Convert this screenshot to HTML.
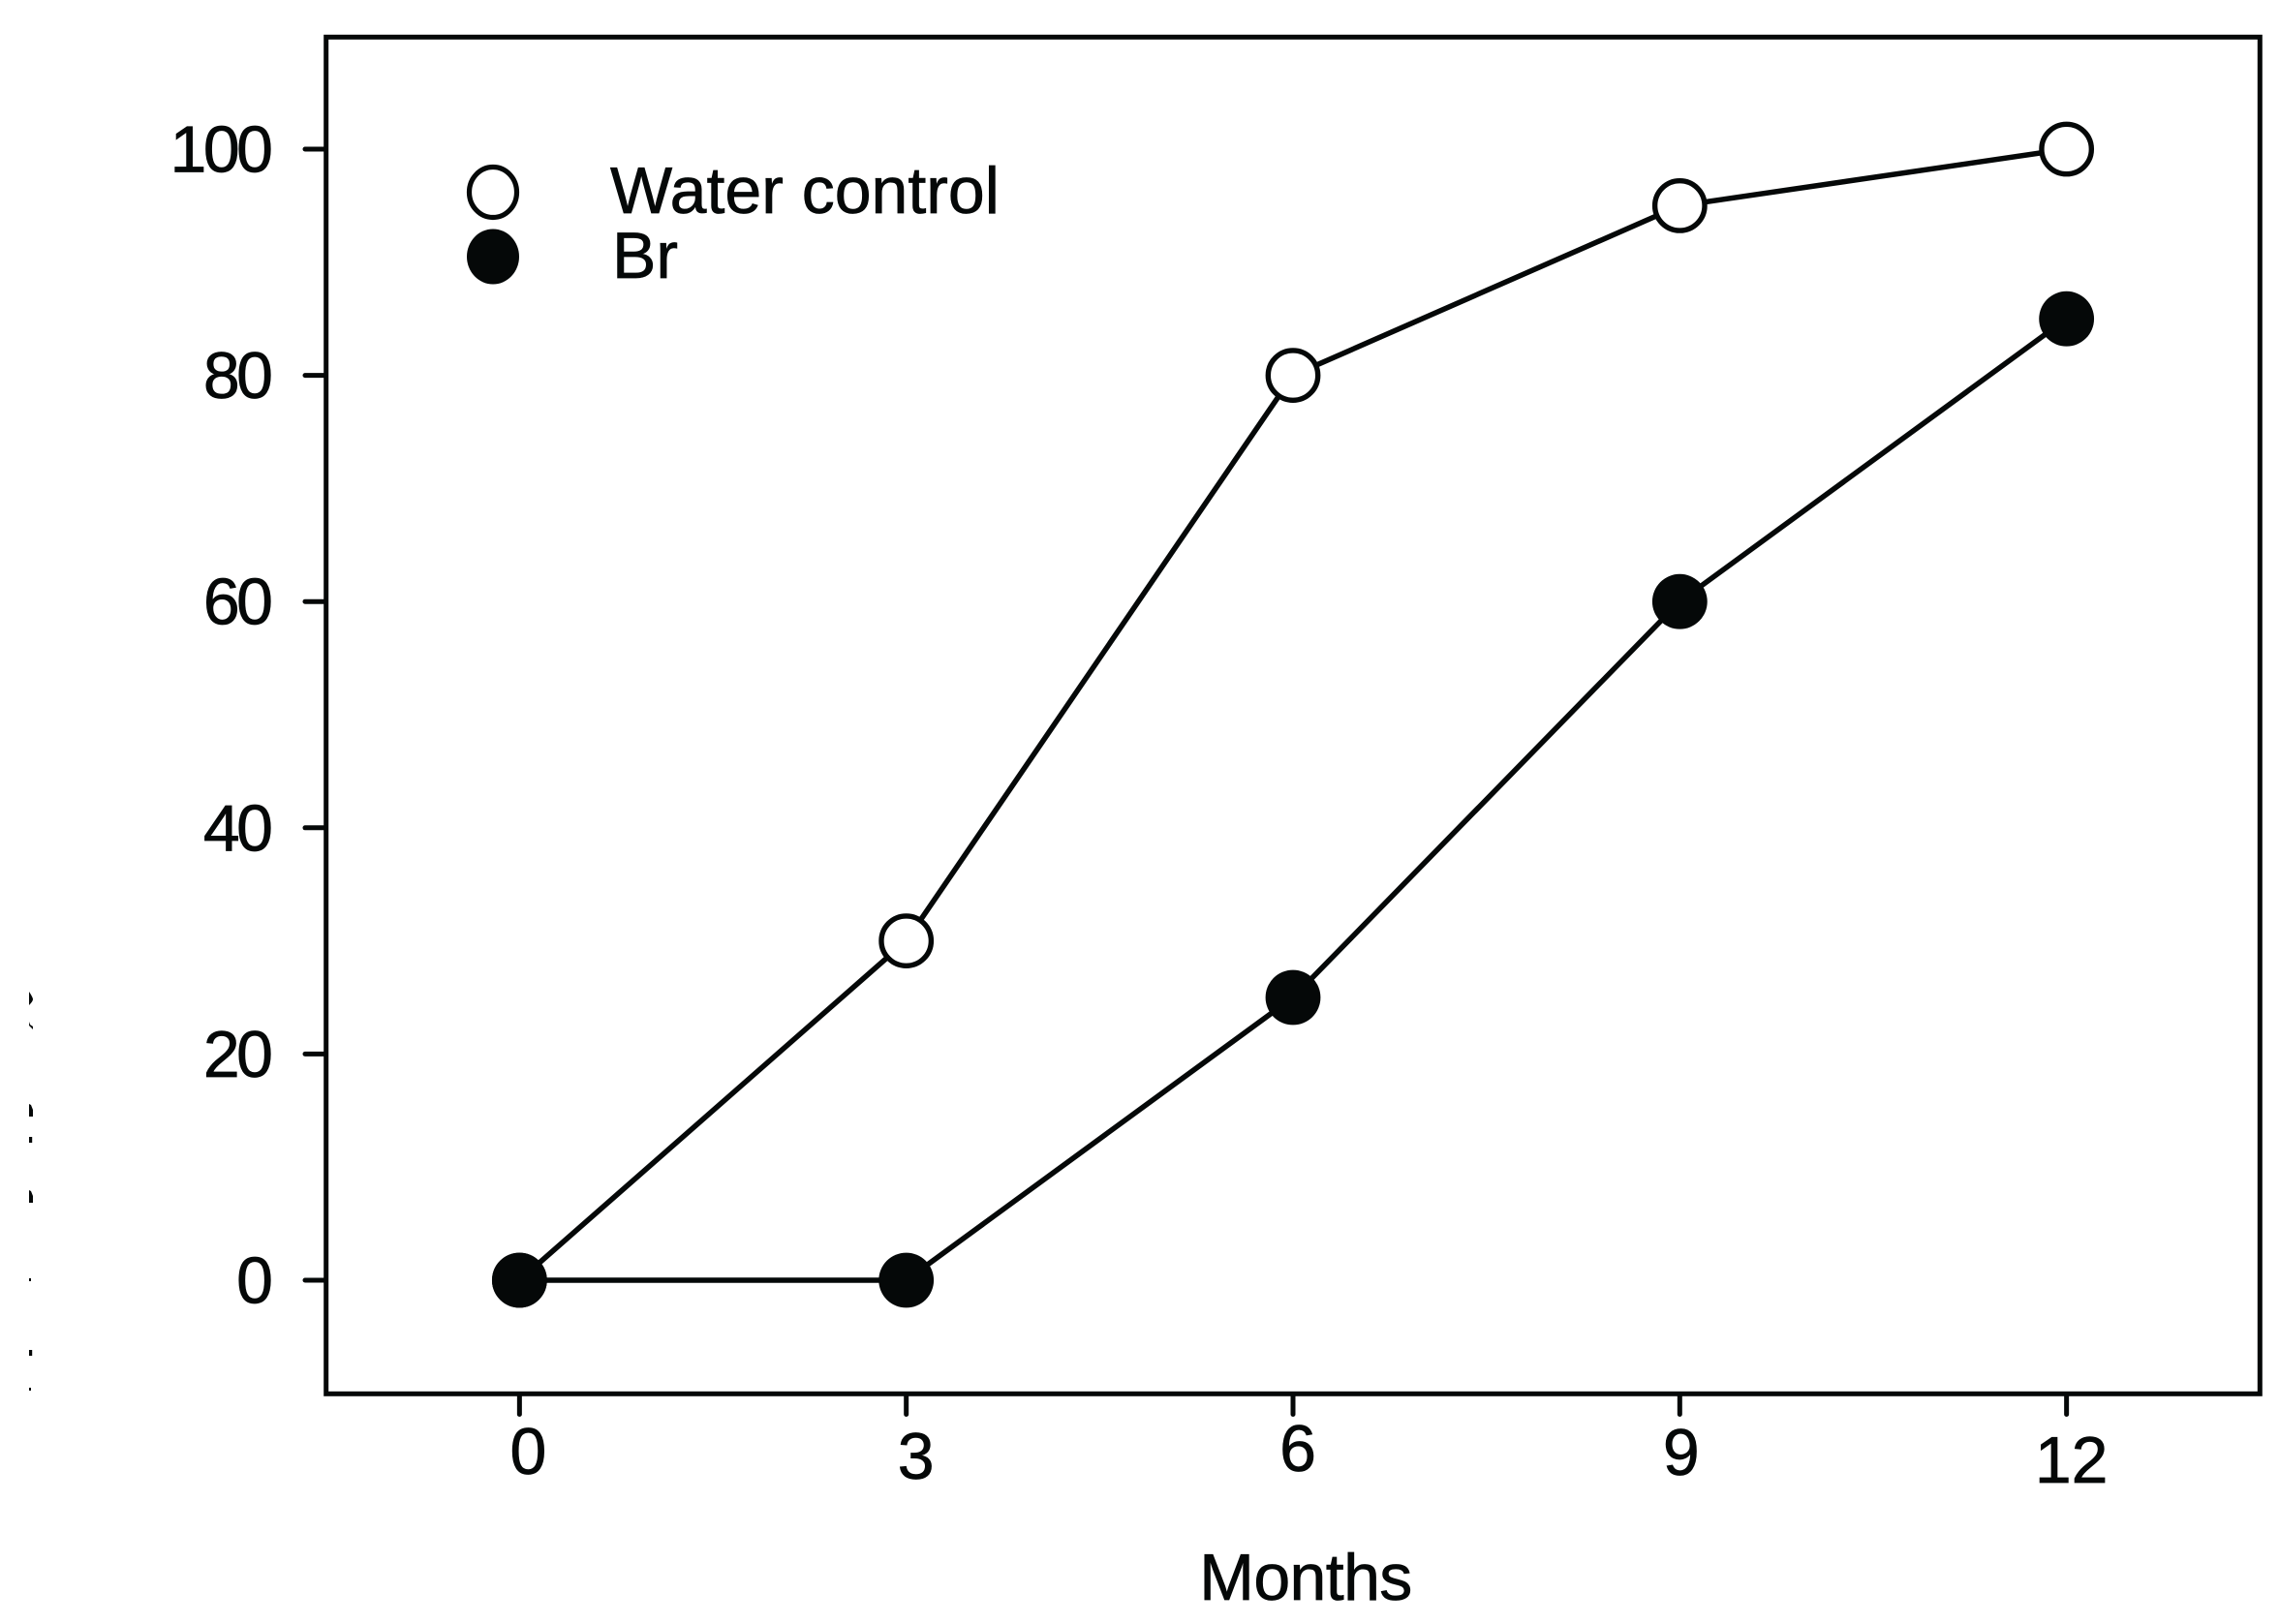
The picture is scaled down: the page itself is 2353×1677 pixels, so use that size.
<!DOCTYPE html>
<html lang="en">
<head>
<meta charset="utf-8">
<title>Water control and Br over months</title>
<style>
html,body{margin:0;padding:0;background:#fff;}
body{width:2353px;height:1677px;overflow:hidden;}
svg{display:block;}
text{font-family:"Liberation Sans",sans-serif;font-size:68px;fill:#050808;stroke:#050808;stroke-width:0.7px;}
</style>
</head>
<body>
<svg id="chart" xmlns="http://www.w3.org/2000/svg" width="2353" height="1677" viewBox="0 0 2353 1677">
  <rect x="0" y="0" width="2353" height="1677" fill="#fff"/>
  <rect x="336.7" y="38.3" width="1996.6" height="1401" fill="#fff" stroke="#050808" stroke-width="5"/>
  <g id="x-axis"></g>
  <g id="y-axis"></g>
  <g id="series"></g>
  <g>
    <g>
      <ellipse cx="509" cy="198.5" rx="24.5" ry="26" fill="#fff" stroke="#050808" stroke-width="5.2"/>
      <text x="630" y="220">Water control</text>
    </g>
    <g>
      <ellipse cx="509" cy="265" rx="27" ry="28.5" fill="#050808"/>
      <text x="632" y="287">Br</text>
    </g>
  </g>
  <text x="1348" y="1652" text-anchor="middle" style="letter-spacing:-0.6px">Months</text>
  <g fill="#050808">
    <path d="M30 1024 Q34 1030 34 1032 Q34 1034 30 1038 Z"/>
    <path d="M30 1055 L31 1058 L34 1060 L34 1063 L30 1059 Z"/>
    <path d="M30 1140 L32 1141 L34 1146 L34 1153 L30 1153 Z"/>
    <rect x="30" y="1174" width="3.2" height="6"/>
    <path d="M30 1229 L32 1230 L34 1235 L34 1242 L30 1242 Z"/>
    <rect x="30" y="1320" width="2" height="3"/>
    <rect x="30" y="1394" width="3.2" height="6"/>
    <rect x="30" y="1433" width="2" height="3"/>
  </g>
</svg>
<script>
const months = [0, 3, 6, 9, 12];
const waterControl = [0, 30, 80, 95, 100];
const br = [0, 0, 25, 60, 85];
const xTickLabels = ["0", "3", "6", "9", "12"];
const yTicks = [0, 20, 40, 60, 80, 100];
const yTickLabels = ["0", "20", "40", "60", "80", "100"];

const NS = "http://www.w3.org/2000/svg";
const INK = "#050808";
const sx = function (v) { return 336.7 + (v + 1.5) * (1996.6 / 15); };
const sy = function (v) { return 1322 - v * 11.68; };

function make(parent, tag, attrs, text) {
  const el = document.createElementNS(NS, tag);
  Object.keys(attrs).forEach(function (k) { el.setAttribute(k, attrs[k]); });
  if (text !== undefined) el.textContent = text;
  parent.appendChild(el);
  return el;
}

/* Hand-placed label offsets seen in the reference, keyed by tick label */
const labelNudge = { "0": [9, 1522], "3": [10, 1527], "6": [5, 1519], "9": [1.5, 1523], "12": [5, 1531] };

const xAxis = document.getElementById("x-axis");
months.forEach(function (m, i) {
  const tick = make(xAxis, "line", { x1: sx(m), x2: sx(m), y1: 1441, y2: 1460.5, stroke: INK, "stroke-width": 5, "stroke-linecap": "round" });
  
  
  const n = labelNudge[xTickLabels[i]];
  const label = make(xAxis, "text", { x: sx(m) + n[0], y: n[1], "text-anchor": "middle" }, xTickLabels[i]);
  
  
});

const yAxis = document.getElementById("y-axis");
yTicks.forEach(function (v, i) {
  const tick = make(yAxis, "line", { x1: 315, x2: 335, y1: sy(v), y2: sy(v), stroke: INK, "stroke-width": 5, "stroke-linecap": "round" });
  
  
  const label = make(yAxis, "text", { x: 278.5, y: sy(v) + 23.5, "text-anchor": "end", style: "letter-spacing:-3.5px" }, yTickLabels[i]);
  
  
});

const layer = document.getElementById("series");

function linePoints(values) {
  return values.map(function (v, i) { return sx(months[i]) + "," + sy(v); }).join(" ");
}

const waterLine = make(layer, "polyline", { points: linePoints(waterControl), fill: "none", stroke: INK, "stroke-width": 5.5, "stroke-linejoin": "round" });



const brLine = make(layer, "polyline", { points: linePoints(br), fill: "none", stroke: INK, "stroke-width": 5.5, "stroke-linejoin": "round" });



waterControl.forEach(function (v, i) {
  const dot = make(layer, "circle", { cx: sx(months[i]), cy: sy(v), r: 25.7, fill: "#fff", stroke: INK, "stroke-width": 5.4 });
  
  
});

br.forEach(function (v, i) {
  const dot = make(layer, "circle", { cx: sx(months[i]), cy: sy(v), r: 28.4, fill: INK });
  
  
});
</script>
</body>
</html>
